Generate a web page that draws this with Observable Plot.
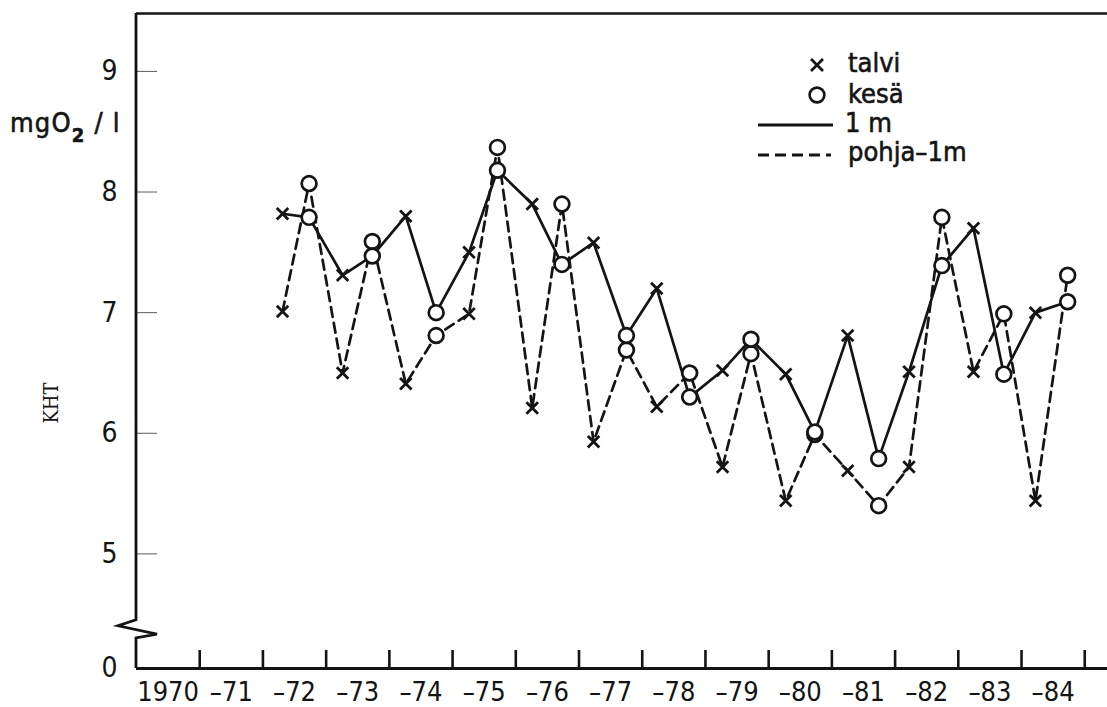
<!DOCTYPE html>
<html>
<head>
<meta charset="utf-8">
<script src="https://cdn.jsdelivr.net/npm/d3@7"></script>
<script src="https://cdn.jsdelivr.net/npm/@observablehq/plot@0.6"></script>
<style>
  html, body { margin: 0; padding: 0; background: #fff; overflow: hidden; }
  #chart { position: relative; width: 1107px; height: 707px; }
</style>
</head>
<body>
<div id="chart"></div>
<script>
// ---- data ----
const seasons = ["talvi","kesä","talvi","kesä","talvi","kesä","talvi","kesä","talvi","kesä",
                 "talvi","kesä","talvi","kesä","talvi","kesä","talvi","kesä","talvi","kesä",
                 "talvi","kesä","talvi","kesä","talvi","kesä"];
const times = [1972.31, 1972.73, 1973.26, 1973.73, 1974.26, 1974.74, 1975.26, 1975.71,
               1976.26, 1976.73, 1977.23, 1977.75, 1978.23, 1978.75, 1979.27, 1979.72,
               1980.27, 1980.73, 1981.25, 1981.74, 1982.22, 1982.74, 1983.24, 1983.72,
               1984.22, 1984.73];
// 1 m depth (solid line)
const surface = [7.82, 7.79, 7.31, 7.47, 7.80, 7.00, 7.50, 8.18, 7.90, 7.40,
                 7.58, 6.81, 7.20, 6.30, 6.52, 6.78, 6.49, 6.01, 6.81, 5.79,
                 6.51, 7.39, 7.70, 6.49, 7.00, 7.09];
// bottom - 1 m (dashed line)
const bottom  = [7.01, 8.07, 6.50, 7.59, 6.41, 6.81, 6.99, 8.37, 6.21, 7.90,
                 5.93, 6.69, 6.22, 6.50, 5.72, 6.66, 5.44, 5.99, 5.69, 5.40,
                 5.72, 7.79, 6.51, 6.99, 5.44, 7.31];

const xTickYears  = [1971,1972,1973,1974,1975,1976,1977,1978,1979,1980,1981,1982,1983,1984,1985];
const xLabelYears = [1970,1971,1972,1973,1974,1975,1976,1977,1978,1979,1980,1981,1982,1983,1984];
const xTickLabels = ["1970","–71","–72","–73","–74","–75","–76","–77","–78","–79","–80","–81","–82","–83","–84"];
const yTickValues = [4.05, 5, 6, 7, 8, 9];   // 4.05 = broken-axis baseline labelled 0
const yTickLabels = ["0", "5", "6", "7", "8", "9"];
const legendLabels = ["talvi", "kesä", "1 m", "pohja–1m"];
const unitLabel = ["mgO", "2", " / l"];
const sideLabel = "KHT";

const xDomain = [1970, 1985.36];
const yDomain = [4.05, 9.48];
const breakVals = [4.45, 4.40, 4.33, 4.30];

// ---- build ----
const table = times.map((t, i) => ({t, season: seasons[i], surface: surface[i], bottom: bottom[i]}));
const summer = table.filter(d => d.season === "kesä");
const winter = table.filter(d => d.season === "talvi");
const labelOf = new Map(xLabelYears.map((y, i) => [y + 0.5, xTickLabels[i]]));
const yLabelOf = new Map(yTickValues.map((v, i) => [v, yTickLabels[i]]));
const ink = "#141414";
const condensed = "'DejaVu Sans Condensed', 'DejaVu Sans', sans-serif";
const lw = 2.7;

const axisBreak = (index, {x, y}) => {
  const x0 = x(xDomain[0]);
  const d = `M${x0},${y(yDomain[1])}V${y(breakVals[0])}L${x0 - 18},${y(breakVals[1])}` +
            `L${x0 + 21},${y(breakVals[2])}L${x0},${y(breakVals[3])}V${y(yDomain[0])}`;
  return d3.create("svg:path").attr("d", d).attr("fill", "none")
    .attr("stroke", ink).attr("stroke-width", 2.8).attr("stroke-linejoin", "miter").node();
};

const chart = Plot.plot({
  width: 1107,
  height: 707,
  marginLeft: 136,
  marginRight: 0,
  marginTop: 13,
  marginBottom: 39,
  x: {domain: xDomain, label: null},
  y: {domain: yDomain, label: null},
  style: {background: "white", color: ink, fontFamily: condensed, fontStretch: "condensed", fontSize: "27px", overflow: "visible"},
  marks: [
    Plot.ruleY([yDomain[1]], {stroke: ink, strokeWidth: 2.4}),
    Plot.ruleY([yDomain[0]], {stroke: ink, strokeWidth: 2.8}),
    axisBreak,
    Plot.axisY(yTickValues, {anchor: "left", tickSize: -21, tickPadding: 40, strokeWidth: 2.6,
      tickFormat: v => yLabelOf.get(v), fontSize: 28, fill: ink, stroke: ink, strokeWidth: 0.7}),
    Plot.axisX(xTickYears, {anchor: "bottom", tickSize: -18, strokeWidth: 2.6, tickFormat: () => ""}),
    Plot.axisX(xLabelYears.map(y => y + 0.5), {anchor: "bottom", tickSize: 0, tickPadding: 13,
      tickFormat: v => labelOf.get(v), fontSize: 27, fill: ink, stroke: ink, strokeWidth: 0.7}),
    Plot.line(table, {x: "t", y: "surface", stroke: ink, strokeWidth: lw}),
    Plot.line(table, {x: "t", y: "bottom", stroke: ink, strokeWidth: lw, strokeDasharray: "10,6"}),
    Plot.dot(summer, {x: "t", y: "bottom", r: 7.4, fill: "white", stroke: ink, strokeWidth: lw}),
    Plot.dot(summer, {x: "t", y: "surface", r: 7.4, fill: "white", stroke: ink, strokeWidth: lw}),
    Plot.dot(winter, {x: "t", y: "surface", symbol: "times", r: 5.3, stroke: ink, strokeWidth: 2.8}),
    Plot.dot(winter, {x: "t", y: "bottom", symbol: "times", r: 5.3, stroke: ink, strokeWidth: 2.8})
  ]
});

document.getElementById("chart").appendChild(chart);

// ---- legend & side labels ----
const svg = d3.select(chart);
const lg = svg.append("g").attr("font-family", "'DejaVu Sans', sans-serif").attr("font-size", 27)
  .attr("fill", ink).attr("stroke", ink).attr("stroke-width", 0.6).attr("text-anchor", "start");
// talvi
lg.append("path").attr("d", "M811,59L823,71M823,59L811,71").attr("stroke", ink).attr("stroke-width", 2.8);
lg.append("text").attr("x", 848).attr("y", 72).text(legendLabels[0]);
// kesä
lg.append("circle").attr("cx", 817).attr("cy", 95).attr("r", 7.4).attr("fill", "white").attr("stroke", ink).attr("stroke-width", 2.6);
lg.append("text").attr("x", 848).attr("y", 103).text(legendLabels[1]);
// 1 m
lg.append("line").attr("x1", 758).attr("x2", 833).attr("y1", 125).attr("y2", 125).attr("stroke", ink).attr("stroke-width", 2.8);
lg.append("text").attr("x", 845).attr("y", 132).text(legendLabels[2]);
// pohja-1m
lg.append("line").attr("x1", 758).attr("x2", 831).attr("y1", 155).attr("y2", 155).attr("stroke", ink).attr("stroke-width", 2.8).attr("stroke-dasharray", "11,6");
lg.append("text").attr("x", 848).attr("y", 161).text(legendLabels[3]);

// unit label mgO2 / l
const ut = svg.append("text").attr("x", 10).attr("y", 132).attr("text-anchor", "start")
  .attr("font-family", "'DejaVu Sans', sans-serif").attr("font-size", 27).attr("letter-spacing", 1.2)
  .attr("fill", ink).attr("stroke", ink).attr("stroke-width", 0.6);
ut.append("tspan").text(unitLabel[0]);
ut.append("tspan").attr("dy", 10).attr("font-size", 20).attr("font-weight", "bold").text(unitLabel[1]);
ut.append("tspan").attr("dy", -10).text(unitLabel[2]);

// side label KHT
svg.append("text").attr("transform", "translate(58,403) rotate(-90)")
  .attr("text-anchor", "middle").attr("font-family", "'DejaVu Serif', 'Liberation Serif', serif")
  .attr("font-size", 20).attr("fill", ink).text(sideLabel);
</script>
</body>
</html>
